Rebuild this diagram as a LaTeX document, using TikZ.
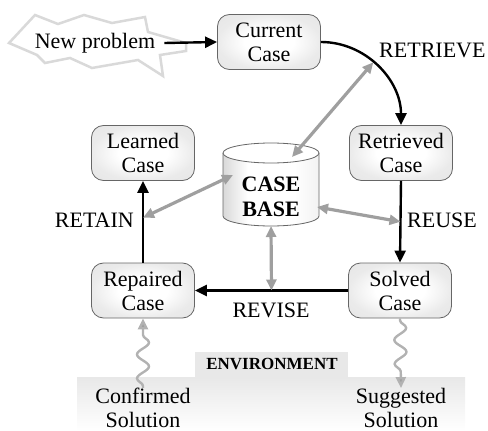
\documentclass[tikz,border=0pt]{standalone}
\usepackage{fontspec}
\setmainfont{Liberation Serif}
\usetikzlibrary{arrows.meta,decorations.pathmorphing,calc}
\pgfdeclareradialshading{boxshade}{\pgfpoint{0bp}{0bp}}{color(0bp)=(white); color(12bp)=(white); color(25bp)=(gray!16); color(50bp)=(gray!25)}
\pgfdeclarehorizontalshading{cylshade}{100bp}{color(0bp)=(gray!30); color(25bp)=(gray!30); color(38bp)=(white); color(62bp)=(white); color(75bp)=(gray!10); color(100bp)=(gray!10)}
\tikzset{
  casebox/.style={draw=black!60, line width=0.8pt, rounded corners=12pt,
    shading=boxshade, minimum width=103pt, minimum height=55pt,
    align=center, font=\fontsize{22}{24}\selectfont, inner sep=0pt},
  lbl/.style={font=\fontsize{22}{24}\selectfont, inner sep=0pt, align=center},
  blackarrow/.style={draw=black, line width=2.4pt, -{Triangle[length=12pt,width=11pt]}},
  grayarrow/.style={draw=gray!75, line width=3.2pt, {Triangle[length=11pt,width=10pt]}-{Triangle[length=11pt,width=10pt]}},
  wavy/.style={draw=gray!60, line width=2.4pt, -{Triangle[length=11pt,width=10pt,fill=gray!75]},
    decorate, decoration={snake, amplitude=6pt, segment length=24pt, pre length=2pt, post length=13pt}},
}
\begin{document}
\begin{tikzpicture}[x=1pt,y=-1pt]
\useasboundingbox (0,0) rectangle (488,431);
% environment
\fill[top color=gray!18, bottom color=white] (77,377) rectangle (465,431);
\fill[gray!18] (195,352) rectangle (348,377.5);
\node[font=\fontsize{17}{19}\selectfont\bfseries, inner sep=0pt] (env) at (272,364) {ENVIRONMENT};
% new problem star
\draw[draw=gray!30, fill=white, line width=2.5pt, line join=miter]
  (9,43) -- (35,15) -- (58,24) -- (84,15) -- (112,23) -- (145,17) -- (148,32) -- (186,43)
  -- (186,51) -- (160,55) -- (163,76) -- (138,60) -- (92,68) -- (70,58) -- (45,63) -- (37,55) -- cycle;
\node[lbl] (np) at (95,43) {New problem};
% boxes
\node[casebox] (cur) at (269,42) {Current\\Case};
\node[casebox] (ret) at (401,153) {Retrieved\\Case};
\node[casebox] (lea) at (143,153) {Learned\\Case};
\node[casebox] (rep) at (143,290.5) {Repaired\\Case};
\node[casebox] (sol) at (400,290.5) {Solved\\Case};
% case base cylinder
\shade[shading=cylshade]
  (223,153) -- (223,216) arc[start angle=180, end angle=360, x radius=48pt, y radius=10pt] -- (319,153) -- cycle;
\draw[black!60, line width=0.8pt]
  (223,153) -- (223,216) arc[start angle=180, end angle=360, x radius=48pt, y radius=10pt] -- (319,153);
\draw[black!60, fill=white, line width=0.8pt] (271,153) ellipse[x radius=48pt, y radius=10pt];
\node[font=\fontsize{22}{24.5}\selectfont\bfseries, align=center, inner sep=0pt] (cb) at (271,197) {CASE\\BASE};
\coordinate (cbtop) at (292,157);
\coordinate (cbleft) at (233,175);
\coordinate (cbright) at (317,207);
\coordinate (cbbot) at (271,226);
% black cycle
\draw[blackarrow] ([xshift=9pt]np.east) -- (cur.west);
\draw[blackarrow] (cur.east) to[out=0,in=90] coordinate[pos=0.45] (rmid) (ret.north);
\draw[blackarrow] (ret.south) -- coordinate[pos=0.5] (umid) (sol.north);
\draw[blackarrow] (sol.west) -- coordinate[pos=0.5] (vmid) (rep.east);
\draw[blackarrow] (rep.north) -- coordinate[pos=0.55] (tmid) (lea.south);
% gray arrows
\draw[grayarrow] (rmid) -- (cbtop);
\draw[grayarrow] (tmid) -- (cbleft);
\draw[grayarrow] (umid) -- (cbright);
\draw[grayarrow] (vmid) -- (cbbot);
% labels
\node[lbl, anchor=west] (lretrieve) at (379,50) {RETRIEVE};
\node[lbl, anchor=west] (lreuse) at (407,220) {REUSE};
\node[lbl] (lrevise) at (271,310) {REVISE};
\node[lbl, anchor=east] (lretain) at (134,220) {RETAIN};
% solutions
\node[lbl] (conf) at (143,408) {Confirmed\\Solution};
\node[lbl] (sugg) at (401,408) {Suggested\\Solution};
\draw[wavy] (conf.north) -- (rep.south);
\draw[wavy] (sol.south) -- (sugg.north);
\end{tikzpicture}
\end{document}
